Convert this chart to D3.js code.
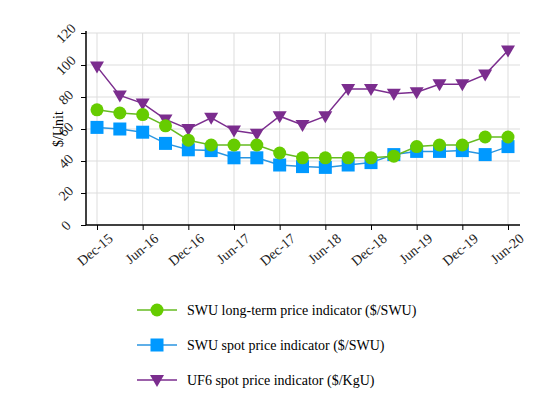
<!DOCTYPE html>
<html>
<head>
<meta charset="utf-8">
<script src="https://cdn.jsdelivr.net/npm/d3@7"></script>
<style>
  body { margin: 0; background: #fff; }
  svg text { font-family: "Liberation Serif", "Times New Roman", serif !important; }
</style>
</head>
<body>
<div id="container"></div>
<script>
/* DATA */
const quarters = ["Dec-15","Mar-16","Jun-16","Sep-16","Dec-16","Mar-17","Jun-17","Sep-17","Dec-17",
  "Mar-18","Jun-18","Sep-18","Dec-18","Mar-19","Jun-19","Sep-19","Dec-19","Mar-20","Jun-20"];
const tickLabels = ["Dec-15","Jun-16","Dec-16","Jun-17","Dec-17","Jun-18","Dec-18","Jun-19","Dec-19","Jun-20"];
const swuLongTerm = [72,70,69,62,53,50,50,50,45,42,42,42,42,43,49,50,50,55,55];
const swuSpot = [61,60,58,51,47,46.5,42,42,37.5,36.5,36,37.5,39,44,46,46,46.5,44,49];
const uf6Spot = [99,81,76,66,60,67,59,57,68,62.5,68,85,85,82,83,88,88,94,109];
const yTicks = [0,20,40,60,80,100,120];

const width = 553, height = 413,
  margin = { top: 33, left: 86, right: 33, bottom: 188 };

const svg = d3.select("#container").append("svg")
  .attr("width", width).attr("height", height);

const xScale = d3.scalePoint()
  .domain(quarters)
  .range([97, 508]);

const yScale = d3.scaleLinear()
  .domain([0, 120])
  .range([height - margin.bottom, margin.top]);

const plotRight = width - margin.right;

// grid
svg.append("g").selectAll("line.h")
  .data(yTicks.slice(1))
  .join("line")
  .attr("x1", margin.left).attr("x2", plotRight)
  .attr("y1", d => yScale(d)).attr("y2", d => yScale(d))
  .attr("stroke", "#ddd");

svg.append("g").selectAll("line.v")
  .data(tickLabels)
  .join("line")
  .attr("x1", d => xScale(d)).attr("x2", d => xScale(d))
  .attr("y1", margin.top).attr("y2", yScale(0))
  .attr("stroke", "#ddd");

// axes
const xAxis = d3.axisBottom(xScale).tickValues(tickLabels).tickSize(5);
const gx = svg.append("g")
  .attr("transform", `translate(0, ${yScale(0)})`)
  .call(xAxis);
gx.select(".domain").attr("d", `M${margin.left},0H${plotRight}`).attr("stroke", "#000").attr("stroke-width", 1.5);
gx.selectAll("text")
  .attr("font-size", 14).attr("fill", "#222")
  .attr("text-anchor", "end")
  .attr("dx", "0.2em").attr("dy", "1.0em")
  .attr("transform", "rotate(-40)");

const yAxis = d3.axisLeft(yScale).tickValues(yTicks).tickSize(5).tickPadding(9);
const gy = svg.append("g")
  .attr("transform", `translate(${margin.left}, 0)`)
  .call(yAxis);
gy.select(".domain").attr("d", `M0,${yScale(0)}V${margin.top - 2}`).attr("stroke", "#000").attr("stroke-width", 1.5);
gy.selectAll("text")
  .attr("font-size", 14).attr("fill", "#222")
  .attr("text-anchor", "middle")
  .attr("transform", function () {
    return `translate(-6,0) rotate(-45, ${d3.select(this).attr("x")}, 0)`;
  });

svg.append("text")
  .attr("transform", `translate(63, ${(yScale(0) + margin.top) / 2}) rotate(-90)`)
  .attr("text-anchor", "middle")
  .attr("font-size", 14)
  .text("$/Unit");

// series
const series = [
  { name: "SWU long-term price indicator ($/SWU)", values: swuLongTerm, color: "#66cc00", line: "#66bb22", shape: "circle" },
  { name: "SWU spot price indicator ($/SWU)", values: swuSpot, color: "#0099ff", line: "#2a95e0", shape: "square" },
  { name: "UF6 spot price indicator ($/KgU)", values: uf6Spot, color: "#7b2d8e", line: "#7b2d8e", shape: "triangle" }
];

const lineFunction = d3.line()
  .x((d, i) => xScale(quarters[i]))
  .y(d => yScale(d));

function marker(g, shape, color) {
  if (shape === "circle") {
    g.append("circle").attr("r", 6.5).attr("fill", color);
  } else if (shape === "square") {
    g.append("rect").attr("x", -6.5).attr("y", -6.5).attr("width", 13).attr("height", 13).attr("fill", color);
  } else {
    g.append("path").attr("d", "M-7,-5L7,-5L0,7Z").attr("fill", color);
  }
}

series.slice().reverse().forEach(s => {
  svg.append("path")
    .datum(s.values)
    .attr("fill", "none")
    .attr("stroke", s.line)
    .attr("stroke-width", 1.5)
    .attr("d", lineFunction);
  svg.append("g").selectAll("g")
    .data(s.values)
    .join("g")
    .attr("transform", (d, i) => `translate(${xScale(quarters[i])}, ${yScale(d)})`)
    .each(function () { marker(d3.select(this), s.shape, s.color); });
});

// legend
const legend = svg.append("g").selectAll("g")
  .data(series)
  .join("g")
  .attr("transform", (d, i) => `translate(137, ${310 + i * 35})`);
legend.append("line")
  .attr("x1", 0).attr("x2", 40)
  .attr("stroke", d => d.line).attr("stroke-width", 1.5);
legend.append("g").attr("transform", "translate(20,0)")
  .each(function (d) { marker(d3.select(this), d.shape, d.color); });
legend.append("text")
  .attr("x", 50).attr("dy", "0.35em")
  .attr("font-size", 14)
  .text(d => d.name);
</script>
</body>
</html>
